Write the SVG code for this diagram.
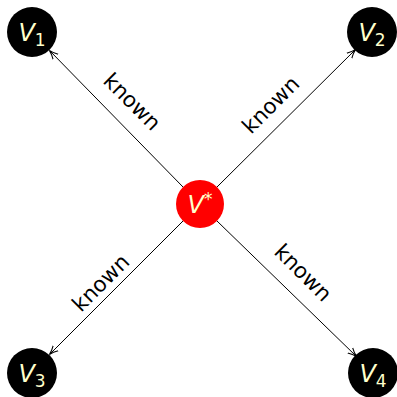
<svg xmlns="http://www.w3.org/2000/svg" width="397" height="397" viewBox="0 0 397 397">
<style>
.n{fill:#000}
.c{fill:#ff0000}
.t{font-family:"DejaVu Sans","Liberation Sans",sans-serif;fill:#ffffcc;font-size:24px;font-style:italic}
.s{font-style:normal;font-size:17px}
.l{font-family:"DejaVu Sans","Liberation Sans",sans-serif;font-size:21.5px;fill:#000}
.e{stroke:#000;stroke-width:1;fill:none;marker-end:url(#a)}
</style>
<defs>
<marker id="a" viewBox="0 0 10 10" refX="9" refY="5" markerWidth="9" markerHeight="9" orient="auto" markerUnits="userSpaceOnUse">
<path d="M0,1 Q5,4 10,5 Q5,6 0,9" fill="none" stroke="#000" stroke-width="1.2"/>
</marker>
</defs>
<g id="connectors">
<line class="e" x1="183" y1="187" x2="50" y2="51"/>
<line class="e" x1="217" y1="187" x2="355" y2="50"/>
<line class="e" x1="183" y1="221" x2="50" y2="354"/>
<line class="e" x1="217" y1="221" x2="356" y2="356"/>
<text class="l" transform="translate(127,107) rotate(45)" text-anchor="middle">known</text>
<text class="l" transform="translate(276,110) rotate(-45)" text-anchor="middle">known</text>
<text class="l" transform="translate(106,288) rotate(-45)" text-anchor="middle">known</text>
<text class="l" transform="translate(298,278) rotate(45)" text-anchor="middle">known</text>
</g>
<g id="Vstar"><circle class="c" cx="200" cy="204" r="24"/><text class="t" x="200" y="213" text-anchor="middle">V<tspan class="s" dy="-8">*</tspan></text></g>
<g id="V1"><circle class="n" cx="32" cy="32" r="25"/><text class="t" x="32" y="41" text-anchor="middle">V<tspan class="s" dy="5">1</tspan></text></g>
<g id="V2"><circle class="n" cx="372" cy="32" r="25"/><text class="t" x="372" y="41" text-anchor="middle">V<tspan class="s" dy="5">2</tspan></text></g>
<g id="V3"><circle class="n" cx="32" cy="373" r="25"/><text class="t" x="32" y="382" text-anchor="middle">V<tspan class="s" dy="5">3</tspan></text></g>
<g id="V4"><circle class="n" cx="373" cy="373" r="25"/><text class="t" x="373" y="382" text-anchor="middle">V<tspan class="s" dy="5">4</tspan></text></g>
</svg>
